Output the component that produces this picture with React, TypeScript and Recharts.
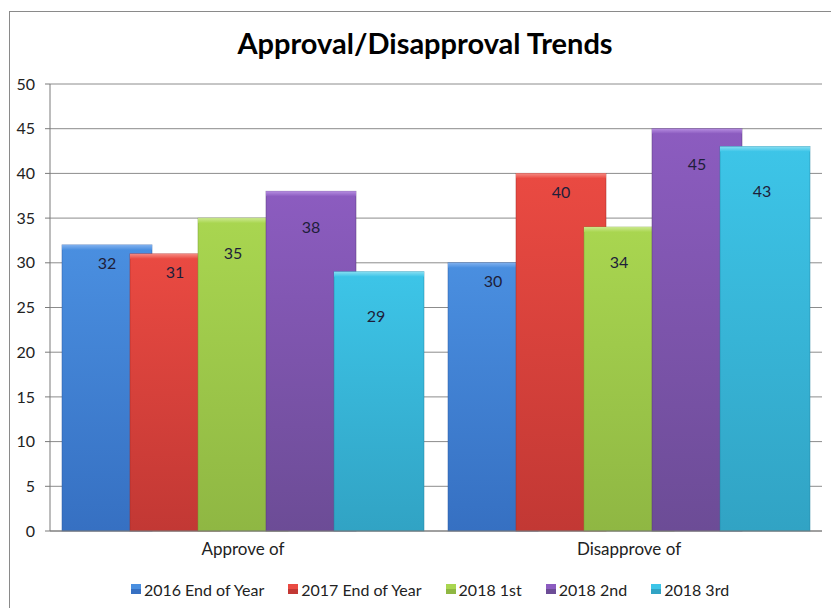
import React from "react";
import { BarChart, Bar, XAxis, YAxis, CartesianGrid, Legend, LabelList } from "recharts";

const categories = ["Approve of", "Disapprove of"];
const seriesNames = ["2016 End of Year", "2017 End of Year", "2018 1st", "2018 2nd", "2018 3rd"];
const s2016End = [32, 30];
const s2017End = [31, 40];
const s2018First = [35, 34];
const s2018Second = [38, 45];
const s2018Third = [29, 43];
const yTicks = [0, 5, 10, 15, 20, 25, 30, 35, 40, 45, 50];

const seriesValues = [s2016End, s2017End, s2018First, s2018Second, s2018Third];
const data = categories.map((c, i) => {
  const row: Record<string, any> = { name: c };
  seriesNames.forEach((s, j) => {
    row[s] = seriesValues[j][i];
  });
  return row;
});

const styles = [
  { top: "#4a8fe0", bottom: "#3670c2", edge: "#2a5aa0", hi: "#7fb0ee", dy: 18, dx: 0 },
  { top: "#ea4a42", bottom: "#c23834", edge: "#a02a26", hi: "#f58a82", dy: 18, dx: 0 },
  { top: "#a9d650", bottom: "#8fb743", edge: "#759a30", hi: "#cbe88e", dy: 34, dx: -10 },
  { top: "#8c5cc0", bottom: "#6c4c96", edge: "#553878", hi: "#b58ce0", dy: 35, dx: 0 },
  { top: "#3dc5e8", bottom: "#31a3c4", edge: "#23829e", hi: "#86def2", dy: 44, dx: -3 },
];

const FONT = "Lato, 'Liberation Sans', sans-serif";

const makeShape = (i: number) => (props: any) => {
  const { x, y, width, height } = props;
  if (!height || height <= 0) return null;
  const st = styles[i];
  return (
    <g>
      <rect x={x} y={y} width={width} height={height} fill={`url(#grad${i})`} stroke={st.edge} strokeWidth={0.8} strokeOpacity={0.6} />
      <rect x={x} y={y} width={width} height={5} fill={`url(#hgrad${i})`} />
    </g>
  );
};

const makeLabel = (i: number) => (props: any) => {
  const { x, y, width, value } = props;
  const st = styles[i];
  return (
    <text
      x={x + width / 2 + st.dx}
      y={y + st.dy}
      textAnchor="middle"
      dominantBaseline="central"
      fill="#1e1e3a"
      fontSize={16}
      fontFamily={FONT}
    >
      {value}
    </text>
  );
};

const renderLegend = (props: any) => {
  const { payload } = props;
  return (
    <div style={{ height: 20, display: "flex", justifyContent: "center", alignItems: "center", fontFamily: FONT, fontSize: 16, color: "#222" }}>
      {(payload || []).map((p: any, i: number) => (
        <div key={p.value} style={{ display: "flex", alignItems: "center", marginRight: i < 4 ? 24 : 0 }}>
          <svg width={10} height={10} style={{ marginRight: 3 }}>
            <rect x={0} y={0} width={10} height={10} fill={styles[i].top} />
            <rect x={0} y={5} width={10} height={5} fill={styles[i].bottom} />
          </svg>
          <span>{p.value}</span>
        </div>
      ))}
    </div>
  );
};

export default function App() {
  return (
    <div style={{ position: "absolute", left: 0, top: 0, width: 831, height: 608, overflow: "hidden", background: "#fff" }}>
      <div style={{ position: "absolute", left: 9, top: 11, width: 900, height: 700, border: "1px solid #8a8a8a" }} />
      <div
        style={{
          position: "absolute",
          left: 0,
          width: 850,
          top: 25,
          textAlign: "center",
          fontFamily: FONT,
          fontWeight: 700,
          fontSize: 29,
          color: "#000",
        }}
      >
        Approval/Disapproval Trends
      </div>
      <div style={{ position: "absolute", left: 0, top: 0 }}>
        <BarChart
          width={831}
          height={608}
          data={data}
          margin={{ top: 84, right: 9, left: 0, bottom: 27 }}
          barSize={90}
          barGap={-22}
        >
          <defs>
            {styles.map((st, i) => (
              <linearGradient key={`g${i}`} id={`grad${i}`} x1="0" y1="0" x2="0" y2="1">
                <stop offset="0%" stopColor={st.top} />
                <stop offset="100%" stopColor={st.bottom} />
              </linearGradient>
            ))}
            {styles.map((st, i) => (
              <linearGradient key={`h${i}`} id={`hgrad${i}`} x1="0" y1="0" x2="0" y2="1">
                <stop offset="0%" stopColor={st.hi} />
                <stop offset="100%" stopColor={st.top} />
              </linearGradient>
            ))}
          </defs>
          <CartesianGrid vertical={false} stroke="#8c8c8c" strokeWidth={1} />
          <XAxis
            dataKey="name"
            height={30}
            tickLine={false}
            tickMargin={6}
            axisLine={{ stroke: "#7a7a7a" }}
            tick={{ fill: "#222", fontSize: 17, fontFamily: FONT }}
          />
          <YAxis
            width={50}
            domain={[0, 50]}
            ticks={yTicks}
            interval={0}
            tickSize={5}
            tickMargin={10}
            axisLine={{ stroke: "#7a7a7a" }}
            tickLine={{ stroke: "#7a7a7a" }}
            tick={{ fill: "#222", fontSize: 16, fontFamily: FONT }}
          />
          <Legend verticalAlign="bottom" content={renderLegend} wrapperStyle={{ left: 0, width: 860, top: 579 }} />
          {seriesNames.map((s, i) => (
            <Bar key={s} dataKey={s} fill={styles[i].top} shape={makeShape(i)} isAnimationActive={false}>
              <LabelList dataKey={s} content={makeLabel(i)} />
            </Bar>
          ))}
        </BarChart>
      </div>
    </div>
  );
}
